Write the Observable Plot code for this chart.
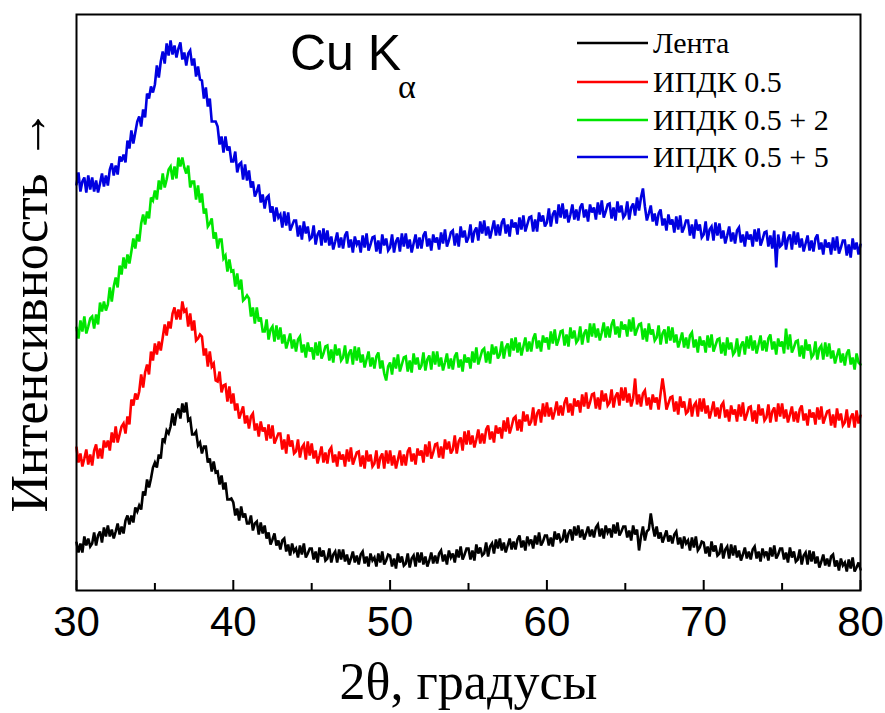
<!DOCTYPE html>
<html><head><meta charset="utf-8">
<script src="https://cdn.jsdelivr.net/npm/d3@7"></script>
<script src="https://cdn.jsdelivr.net/npm/@observablehq/plot@0.6"></script>
<style>
body{margin:0;background:#fff;}
#wrap{position:relative;width:885px;height:713px;}
</style></head><body>
<div id="wrap"></div>
<script>
// 2θ sampling grid (degrees)
const twoThetaStart = 30, twoThetaStep = 0.125;
const seriesNames = ["Лента", "ИПДК 0.5", "ИПДК 0.5 + 2", "ИПДК 0.5 + 5"];
const seriesColors = ["#000000", "#ff0000", "#00e600", "#0000e0"];
const xTicks = [30, 40, 50, 60, 70, 80];
const xMinorTicks = [35, 45, 55, 65, 75];
const xLabel = "2θ, градусы";
const yLabel = "Интенсивность →";
const radiationMain = "Cu K";
const radiationSub = "α";

// intensities (arb. units, curves offset vertically), 8 values per degree (30°…80°)
const lenta = [
 48,38,47,38,54,45,52,44,
 47,58,45,55,59,48,63,54,
 65,54,61,52,59,67,56,64,
 57,70,75,66,75,68,83,79,
 85,81,99,95,111,103,112,123,
 128,123,136,132,152,149,160,157,
 164,177,165,177,182,172,187,178,
 188,170,172,156,156,159,145,148,
 137,144,144,128,132,119,129,118,
 119,106,115,101,108,91,91,92,
 88,75,82,70,84,73,77,67,
 67,75,60,67,69,56,68,57,
 65,52,58,46,51,57,45,50,
 41,50,52,39,46,35,47,39,
 42,33,45,36,47,33,37,42,
 42,31,39,28,43,34,40,30,
 32,42,28,36,39,28,41,31,
 41,29,36,26,32,39,28,35,
 26,36,39,27,34,24,37,30,
 33,24,37,28,39,26,30,36,
 35,24,32,22,37,28,34,25,
 27,37,23,32,35,24,38,28,
 38,26,34,24,30,38,27,35,
 27,37,40,29,36,26,40,33,
 37,28,41,33,44,31,36,42,
 42,31,40,30,46,37,43,35,
 37,48,34,44,47,37,51,42,
 52,40,48,38,45,52,41,49,
 41,51,55,43,50,40,54,47,
 51,42,55,46,58,45,49,55,
 55,45,53,44,59,51,57,49,
 51,61,48,57,61,50,64,55,
 65,53,61,51,57,64,54,61,
 53,63,66,54,62,52,65,58,
 62,53,66,57,68,55,59,64,
 64,53,60,50,65,56,61,40,
 54,64,50,59,61,77,64,54,
 64,52,58,48,54,60,49,55,
 47,56,59,46,53,42,54,47,
 50,40,53,43,54,40,43,49,
 48,37,44,34,49,39,45,35,
 37,47,32,41,44,32,46,35,
 45,33,40,30,36,43,32,39,
 31,41,44,32,39,29,42,35,
 39,30,43,34,45,32,36,42,
 42,31,38,28,43,33,39,29,
 31,41,26,35,38,26,40,29,
 39,27,34,23,29,36,25,32,
 24,34,36,24,30,20,32,25,
 28,19,31,22,33,19,23,28,
 21
];
const ipdk05 = [
 143,128,137,124,132,141,126,136,
 125,140,146,132,142,132,150,143,
 150,140,158,148,164,148,156,164,
 167,157,174,166,191,185,197,191,
 199,216,203,218,226,216,239,230,
 247,236,249,240,253,266,255,269,
 262,277,283,271,281,271,289,279,
 281,264,277,260,270,250,252,256,
 254,235,242,224,239,224,227,210,
 209,219,198,205,206,189,204,187,
 197,180,187,172,178,184,167,175,
 162,174,177,160,167,154,169,159,
 163,150,166,152,165,147,152,157,
 157,141,151,137,156,144,150,137,
 139,151,133,143,146,131,149,135,
 147,132,140,127,135,144,128,138,
 127,140,143,128,136,124,139,131,
 136,124,141,129,143,126,132,138,
 139,124,135,122,140,129,136,124,
 127,140,122,133,137,122,140,127,
 140,125,135,122,131,140,125,136,
 125,139,143,129,137,126,142,135,
 140,128,146,134,149,132,138,146,
 147,133,144,132,151,141,149,137,
 141,155,137,149,153,140,159,146,
 160,146,155,143,151,161,147,157,
 147,161,165,151,159,148,165,157,
 163,152,170,159,173,157,164,172,
 174,160,171,159,179,169,176,165,
 169,183,165,177,181,168,187,174,
 188,174,183,171,179,189,175,185,
 175,188,193,178,187,175,192,184,
 190,178,196,184,198,182,188,196,
 197,182,193,181,200,189,197,185,
 188,201,183,194,198,185,203,190,
 203,188,197,184,192,212,186,196,
 184,197,200,185,193,181,196,188,
 193,181,197,212,198,181,187,193,
 194,179,189,176,194,183,189,177,
 179,192,174,185,188,174,192,179,
 192,177,185,172,180,189,174,183,
 172,185,188,173,181,169,185,176,
 181,169,186,174,188,170,176,183,
 184,169,180,167,186,175,182,170,
 173,186,168,179,183,169,187,174,
 187,172,181,168,176,184,169,179,
 168,181,185,170,177,165,181,173,
 178,166,183,171,184,167,173,179,
 180,165,176,163,182,170,177,165,
 168,181,163,173,177,163,180,167,
 175
];
const ipdk05p2 = [
 263,252,270,259,274,257,264,272,
 274,262,276,266,288,279,289,280,
 286,303,289,304,313,303,325,316,
 333,322,336,327,339,352,342,356,
 349,367,376,366,379,372,393,390,
 400,391,410,401,417,403,411,421,
 424,411,424,412,433,424,433,423,
 417,425,403,409,409,391,405,388,
 397,377,382,364,367,372,352,358,
 342,351,351,332,335,319,331,319,
 320,304,317,301,311,290,292,295,
 292,274,283,267,283,269,273,259,
 259,271,251,261,264,249,265,251,
 263,247,256,242,249,257,242,251,
 239,251,254,238,246,233,248,239,
 243,231,248,235,249,232,237,244,
 245,230,241,228,246,235,242,230,
 233,245,227,237,241,226,244,230,
 243,228,236,223,231,239,224,233,
 222,234,238,222,230,217,210,224,
 228,216,233,222,236,219,226,233,
 234,219,230,218,237,226,233,221,
 225,238,220,231,235,221,239,226,
 239,224,233,220,228,237,222,232,
 221,234,238,223,231,219,236,228,
 233,222,239,228,243,226,233,240,
 242,228,239,227,246,236,244,232,
 236,249,232,243,247,234,252,240,
 253,238,248,235,244,253,239,249,
 239,252,257,242,250,239,255,248,
 253,241,259,247,261,245,251,259,
 260,245,256,244,263,252,260,248,
 251,264,246,257,261,248,267,254,
 267,253,262,250,258,268,253,264,
 253,266,271,256,264,253,269,261,
 266,254,271,259,273,255,261,266,
 267,251,262,249,267,256,261,250,
 253,265,246,257,261,247,264,250,
 263,248,256,243,250,258,243,253,
 242,255,258,243,251,238,254,245,
 250,238,255,243,256,239,245,251,
 252,237,248,235,253,241,248,236,
 239,252,234,245,249,236,254,242,
 255,240,250,237,246,255,240,250,
 239,252,256,241,249,236,252,244,
 249,237,262,241,256,238,243,249,
 250,234,245,232,251,240,246,233,
 236,249,231,242,245,231,248,234,
 247,232,240,227,235,242,228,237,
 225,237,241,226,233,221,237,228,
 226
];
const ipdk05p5 = [
 406,418,399,409,413,398,415,401,
 413,399,410,398,407,417,404,415,
 405,421,427,415,425,416,434,429,
 436,428,450,442,460,447,458,469,
 474,464,481,473,497,492,504,498,
 506,525,513,529,539,527,547,535,
 550,536,545,533,542,548,531,538,
 525,537,540,525,532,514,524,511,
 510,492,503,484,492,469,469,469,
 464,446,454,438,454,440,444,429,
 429,439,418,426,428,411,426,410,
 420,403,409,394,399,406,388,396,
 382,393,395,378,384,369,383,373,
 376,363,379,365,378,360,365,370,
 370,354,365,351,369,357,364,351,
 353,365,346,356,360,345,362,348,
 360,345,354,341,349,358,343,353,
 342,355,359,343,351,338,354,346,
 350,338,355,343,357,340,346,353,
 354,339,350,337,356,345,352,340,
 343,356,338,349,353,339,357,344,
 357,342,351,338,347,356,342,353,
 342,355,359,344,352,340,356,348,
 353,341,358,347,361,344,350,358,
 360,345,357,344,364,353,360,348,
 353,366,348,359,363,350,369,357,
 370,355,364,352,361,370,355,366,
 355,368,372,357,366,354,371,363,
 368,356,373,361,375,359,366,373,
 374,359,371,359,378,369,375,364,
 368,382,364,376,380,367,386,373,
 387,372,381,368,376,386,371,381,
 370,383,387,373,381,369,386,378,
 383,371,388,376,390,373,379,386,
 387,372,383,370,389,378,385,373,
 376,389,371,383,387,375,393,380,
 393,402,384,370,377,385,369,377,
 365,377,381,365,372,360,376,366,
 371,358,374,361,375,358,363,370,
 370,355,366,352,371,360,366,353,
 356,369,350,361,364,350,368,355,
 367,352,360,347,355,364,349,358,
 347,360,363,348,356,344,359,351,
 356,344,361,349,362,345,351,358,
 359,344,355,342,360,323,356,344,
 346,359,341,352,356,341,359,346,
 358,343,352,339,347,355,340,350,
 339,352,356,341,348,336,351,343,
 348,336,353,340,354,337,343,350,
 350,335,346,333,352,341,348,336,
 346
];

const allSeries = [lenta, ipdk05, ipdk05p2, ipdk05p5];
const rows = [];
allSeries.forEach((arr, s) => arr.forEach((v, i) =>
  rows.push({theta: twoThetaStart + i * twoThetaStep, intensity: v, series: seriesNames[s]})));

const serif = "'Liberation Serif', 'Times New Roman', serif";
const sans = "'Liberation Sans', Arial, sans-serif";

const plot = Plot.plot({
  width: 885, height: 713,
  marginLeft: 76, marginRight: 25, marginTop: 14, marginBottom: 123,
  style: {background: "#fff", color: "#000"},
  x: {domain: [30, 80], label: null},
  y: {domain: [0, 576], axis: null},
  color: {domain: seriesNames, range: seriesColors},
  marks: [
    Plot.line(rows, {x: "theta", y: "intensity", z: "series", stroke: "series", strokeWidth: 2.6, strokeLinejoin: "miter", strokeMiterlimit: 3}),
    Plot.frame({stroke: "#000", strokeWidth: 2}),
    Plot.axisX(xTicks, {tickSize: -10, strokeWidth: 2, text: null, label: null}),
    Plot.axisX(xMinorTicks, {tickSize: -7, strokeWidth: 2, text: null, label: null}),
    Plot.axisX(xTicks, {tickSize: 0, tickPadding: 16, fontSize: 42, fontFamily: sans, fill: "#000", label: null}),
    Plot.text([xLabel], {frameAnchor: "bottom", dy: 108, fontSize: 52, fontFamily: serif, fill: "#000"}),
    Plot.text([yLabel], {frameAnchor: "left", textAnchor: "middle", rotate: -90, dx: -46, dy: 8, fontSize: 52, fontFamily: serif, fill: "#000"})
  ]
});
document.getElementById("wrap").appendChild(plot);

// annotation and legend
const svg = d3.select(plot);
const ann = svg.append("g").attr("text-anchor", "start");
ann.append("text").attr("x", 290).attr("y", 70).attr("font-family", sans).attr("font-size", 50)
  .attr("fill", "#000").text(radiationMain);
ann.append("text").attr("x", 398).attr("y", 98).attr("font-family", serif).attr("font-size", 34)
  .attr("fill", "#000").text(radiationSub);
const legendRows = [43, 82, 120, 157];
const lg = svg.append("g").attr("text-anchor", "start");
seriesNames.forEach((name, i) => {
  lg.append("line").attr("x1", 577).attr("x2", 648).attr("y1", legendRows[i]).attr("y2", legendRows[i])
    .attr("stroke", seriesColors[i]).attr("stroke-width", 2.5);
  lg.append("text").attr("x", 653).attr("y", legendRows[i] + 10).attr("font-family", serif)
    .attr("font-size", 30).attr("fill", "#000").text(name);
});
</script>
</body></html>
